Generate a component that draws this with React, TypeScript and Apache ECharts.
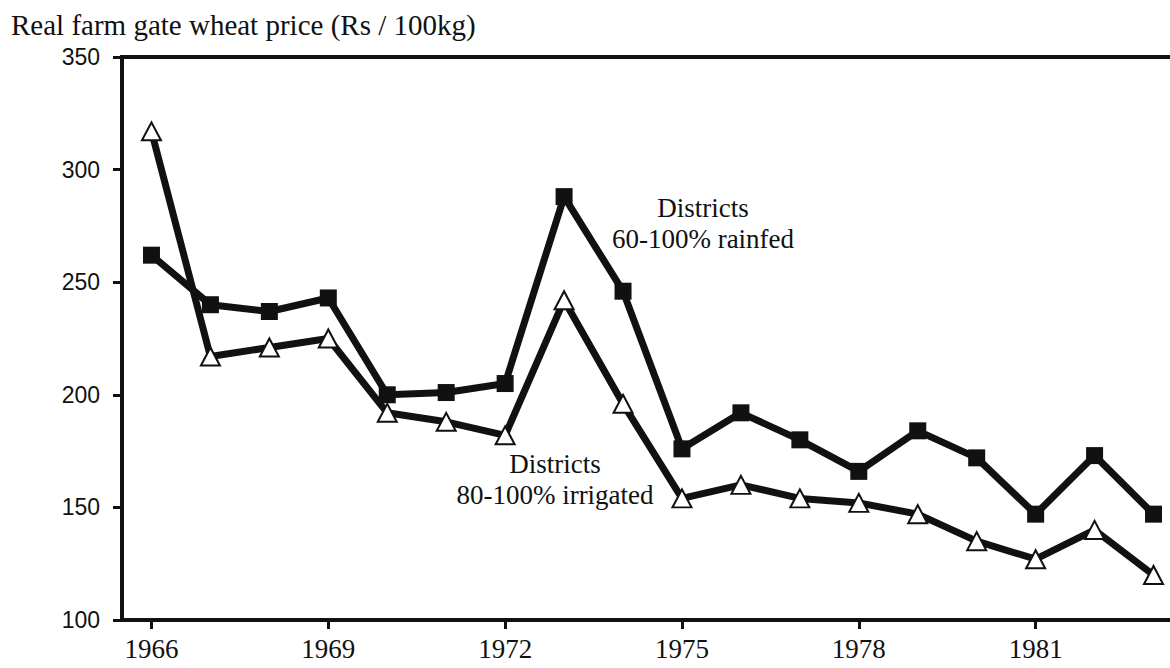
import React, { useEffect, useRef } from "react";
import * as echarts from "echarts";

const years = ["1966","1967","1968","1969","1970","1971","1972","1973","1974","1975","1976","1977","1978","1979","1980","1981","1982","1983"];
const rainfed = [262, 240, 237, 243, 200, 201, 205, 288, 246, 176, 192, 180, 166, 184, 172, 147, 173, 147];
const irrigated = [317, 217, 221, 225, 192, 188, 182, 242, 196, 154, 160, 154, 152, 147, 135, 127, 140, 120];
const yTicks = { min: 100, max: 350, interval: 50 };
const titleText = "Real farm gate wheat price (Rs / 100kg)";
const rainfedLabel = ["Districts", "60-100% rainfed"];
const irrigatedLabel = ["Districts", "80-100% irrigated"];

const serif = "'Liberation Serif', 'Times New Roman', serif";
const sans = "'Liberation Sans', Arial, sans-serif";

export default function App() {
  const ref = useRef<HTMLDivElement>(null);
  useEffect(() => {
    if (!ref.current) return;
    const chart = echarts.init(ref.current, null, { renderer: "svg" });
    const txt = (s: string, x: number, y: number, align: string, size: number) => ({
      type: "text",
      x,
      y,
      style: {
        text: s,
        fill: "#111",
        font: `${size}px ${serif}`,
        textAlign: align,
        textVerticalAlign: "middle",
      },
    });
    chart.setOption({
      animation: false,
      backgroundColor: "#fff",
      grid: {
        left: 122,
        top: 57,
        width: 1061,
        height: 563,
        show: true,
        borderColor: "#111",
        borderWidth: 4,
      },
      xAxis: {
        type: "category",
        data: years,
        boundaryGap: true,
        axisLine: { lineStyle: { color: "#111", width: 4 } },
        axisTick: { show: true, alignWithLabel: true, interval: 2, length: 9, lineStyle: { color: "#111", width: 3 } },
        axisLabel: { interval: 2, margin: 15, color: "#111", fontSize: 27, fontFamily: serif },
        splitLine: { show: false },
      },
      yAxis: {
        type: "value",
        min: yTicks.min,
        max: yTicks.max,
        interval: yTicks.interval,
        axisLine: { show: true, lineStyle: { color: "#111", width: 4 } },
        axisTick: { show: true, length: 9, lineStyle: { color: "#111", width: 3 } },
        axisLabel: { margin: 22, color: "#111", fontSize: 23, fontFamily: sans },
        splitLine: { show: false },
      },
      series: [
        {
          type: "line",
          data: rainfed,
          symbol: "rect",
          symbolSize: 17,
          lineStyle: { color: "#111", width: 7 },
          itemStyle: { color: "#111" },
        },
        {
          type: "line",
          data: irrigated,
          symbol: "triangle",
          symbolSize: [19, 18],
          lineStyle: { color: "#111", width: 7 },
          itemStyle: { color: "#fff", borderColor: "#111", borderWidth: 2 },
        },
      ],
      graphic: [
        txt(titleText, 11, 25, "left", 29),
        txt(rainfedLabel[0], 703, 208, "center", 27),
        txt(rainfedLabel[1], 703, 239, "center", 27),
        txt(irrigatedLabel[0], 555, 464, "center", 27),
        txt(irrigatedLabel[1], 555, 495, "center", 27),
      ],
    });
    return () => chart.dispose();
  }, []);
  return (
    <div style={{ position: "fixed", left: 0, top: 0, width: 1170, height: 668, overflow: "hidden", background: "#fff" }}>
      <div ref={ref} style={{ position: "absolute", left: 0, top: 0, width: 1220, height: 668 }} />
    </div>
  );
}
